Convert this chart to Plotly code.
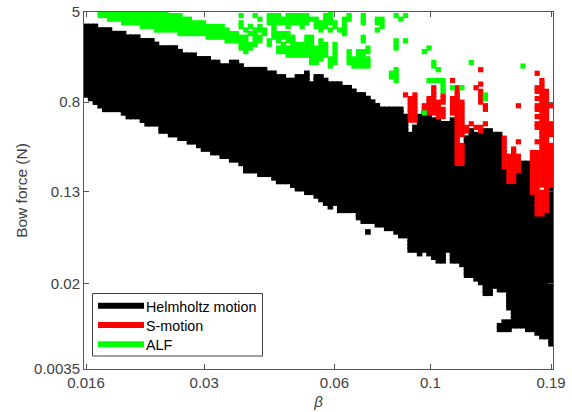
import plotly.graph_objects as go

# Sampling grid of the parameter sweep
beta_levels = [
    0.016, 0.0164, 0.01682, 0.01725, 0.01768, 0.01813, 0.01859, 0.01906, 0.01954, 0.02004,
    0.02055, 0.02107, 0.0216, 0.02215, 0.02271, 0.02328, 0.02387, 0.02448, 0.0251, 0.02573,
    0.02639, 0.02705, 0.02774, 0.02844, 0.02916, 0.0299, 0.03066, 0.03143, 0.03223, 0.03304,
    0.03388, 0.03474, 0.03562, 0.03652, 0.03744, 0.03839, 0.03936, 0.04036, 0.04138, 0.04243,
    0.0435, 0.0446, 0.04573, 0.04689, 0.04808, 0.04929, 0.05054, 0.05182, 0.05313, 0.05448,
    0.05586, 0.05727, 0.05872, 0.06021, 0.06173, 0.0633, 0.0649, 0.06654, 0.06823, 0.06995,
    0.07172, 0.07354, 0.0754, 0.07731, 0.07926, 0.08127, 0.08333, 0.08543, 0.0876, 0.08981,
    0.09209, 0.09442, 0.09681, 0.09926, 0.1018, 0.1043, 0.107, 0.1097, 0.1125, 0.1153,
    0.1183, 0.1212, 0.1243, 0.1275, 0.1307, 0.134, 0.1374, 0.1409, 0.1445, 0.1481,
    0.1519, 0.1557, 0.1597, 0.1637, 0.1679, 0.1721, 0.1765, 0.181, 0.1855, 0.19,
]
force_levels = [
    0.0035, 0.003766, 0.004053, 0.004362, 0.004694, 0.005052, 0.005436, 0.00585, 0.006296, 0.006775,
    0.007291, 0.007846, 0.008444, 0.009087, 0.009779, 0.01052, 0.01133, 0.01219, 0.01312, 0.01411,
    0.01519, 0.01635, 0.01759, 0.01893, 0.02037, 0.02192, 0.02359, 0.02539, 0.02732, 0.0294,
    0.03164, 0.03405, 0.03664, 0.03943, 0.04243, 0.04566, 0.04914, 0.05288, 0.05691, 0.06124,
    0.0659, 0.07092, 0.07632, 0.08213, 0.08838, 0.09511, 0.1024, 0.1102, 0.1185, 0.1276,
    0.1373, 0.1477, 0.159, 0.1711, 0.1841, 0.1981, 0.2132, 0.2295, 0.2469, 0.2657,
    0.286, 0.3077, 0.3312, 0.3564, 0.3835, 0.4127, 0.4441, 0.478, 0.5144, 0.5535,
    0.5957, 0.641, 0.6898, 0.7424, 0.7989, 0.8597, 0.9252, 0.9956, 1.071, 1.153,
    1.241, 1.335, 1.437, 1.546, 1.664, 1.791, 1.927, 2.074, 2.232, 2.402,
    2.585, 2.781, 2.993, 3.221, 3.466, 3.73, 4.014, 4.32, 4.649, 5.0,
]

x_tick_vals = [0.016, 0.03, 0.06, 0.1, 0.19]
x_tick_text = ["0.016", "0.03", "0.06", "0.1", "0.19"]
y_tick_vals = [0.0035, 0.02, 0.13, 0.8, 5]
y_tick_text = ["0.0035", "0.02", "0.13", "0.8", "5"]

# Helmholtz region: highest and lowest force step per beta step
helmholtz_top = [
    95, 95, 95, 94, 94, 94, 93, 93, 93, 92,
    92, 92, 91, 91, 91, 90, 89, 89, 89, 89,
    88, 87, 87, 87, 86, 86, 86, 85, 85, 84,
    84, 85, 85, 84, 83, 83, 83, 83, 83, 82,
    82, 81, 81, 80, 80, 81, 81, 82, 79, 81,
    81, 80, 79, 79, 79, 78, 78, 77, 76, 76,
    75, 74, 73, 72, 72, 72, 72, 72, 70, 65,
    67, 70, 71, 70, 69, 69, 68, 68, 69, 56,
    56, 64, 66, 65, 65, 66, 66, 65, 65, 55,
    51, 51, 54, 57, 57, 48, 42, 42, 43, 50,
]
helmholtz_bottom = [
    76, 75, 74, 73, 72, 72, 72, 72, 71, 70,
    70, 70, 69, 68, 68, 68, 66, 66, 65, 65,
    64, 64, 63, 63, 62, 61, 61, 60, 60, 59,
    59, 58, 58, 57, 55, 55, 55, 54, 54, 54,
    53, 52, 52, 52, 51, 50, 50, 49, 49, 48,
    47, 46, 45, 46, 44, 44, 44, 44, 42, 41,
    41, 41, 40, 40, 39, 39, 38, 37, 37, 33,
    33, 32, 33, 32, 31, 30, 30, 33, 30, 30,
    29, 26, 26, 25, 24, 21, 21, 23, 22, 22,
    17, 12, 12, 12, 11, 11, 10, 9, 9, 7,
]
# (beta step, lowest force step, highest force step)
helmholtz_extra = [(60, 38, 38), (88, 11, 12), (89, 11, 13), (90, 11, 13)]

s_motion = [
    (68, 76, 76), (69, 69, 75), (70, 69, 76), (72, 72, 73), (73, 71, 75), (74, 71, 78),
    (75, 70, 74), (76, 74, 76), (76, 70, 72), (78, 80, 80), (78, 71, 75), (79, 57, 78),
    (80, 65, 74), (80, 57, 62), (81, 66, 67), (82, 68, 68), (83, 67, 67), (84, 66, 67),
    (85, 68, 68), (83, 78, 78), (84, 83, 83), (84, 79, 79), (84, 74, 77), (85, 72, 73),
    (89, 56, 64), (90, 52, 59), (91, 52, 61), (92, 55, 59), (92, 63, 63), (92, 73, 73),
    (95, 49, 60), (96, 82, 82), (96, 77, 78), (96, 75, 75), (96, 72, 73), (96, 70, 70),
    (96, 67, 68), (96, 63, 63), (96, 43, 60), (97, 51, 80), (97, 43, 49), (98, 44, 77),
    (99, 73, 73), (99, 65, 68), (99, 51, 62),
]
alf = [
    (3, 98, 99), (4, 98, 99), (5, 97, 99), (6, 97, 99), (7, 97, 99), (8, 96, 99), (9, 96, 99),
    (10, 96, 99), (11, 96, 99), (12, 95, 99), (13, 95, 99), (14, 95, 99), (15, 94, 99),
    (16, 94, 99), (17, 94, 99), (18, 94, 98), (19, 94, 98), (20, 93, 98), (21, 93, 97),
    (22, 93, 97), (23, 93, 96), (24, 93, 96), (25, 93, 96), (26, 92, 95), (27, 92, 95),
    (28, 92, 95), (29, 92, 95), (30, 91, 94), (31, 91, 93), (32, 91, 93),
    (33, 98, 98), (33, 95, 96), (33, 89, 92), (34, 94, 94), (34, 88, 92), (35, 95, 95),
    (35, 93, 93), (35, 89, 90), (36, 98, 98), (36, 94, 94), (36, 90, 93), (37, 97, 97),
    (37, 94, 95), (37, 91, 92), (38, 93, 94), (39, 96, 98), (39, 90, 91), (40, 96, 98),
    (40, 92, 95), (41, 96, 98), (41, 91, 93), (41, 88, 89), (42, 96, 97), (42, 92, 93),
    (42, 88, 90), (43, 95, 98), (43, 91, 93), (43, 87, 89), (44, 96, 98), (44, 91, 92),
    (44, 87, 90), (45, 96, 98), (45, 87, 90), (46, 95, 98), (46, 87, 90), (47, 96, 98),
    (47, 91, 92), (47, 87, 90), (48, 97, 97), (48, 90, 92), (48, 85, 89), (49, 95, 97),
    (49, 85, 89), (50, 94, 96), (50, 86, 91), (51, 95, 98), (51, 87, 90), (52, 96, 99),
    (52, 94, 94), (52, 84, 86), (53, 95, 96), (53, 85, 90), (54, 94, 94), (55, 93, 97),
    (56, 97, 98), (56, 85, 88), (57, 84, 86), (58, 84, 88), (59, 96, 98), (59, 91, 92),
    (59, 84, 88), (60, 88, 89), (60, 84, 86), (62, 96, 97), (62, 94, 94), (63, 95, 97),
    (65, 81, 82), (66, 98, 98), (66, 89, 91), (66, 80, 83), (67, 97, 97), (68, 98, 98),
    (68, 91, 91), (72, 88, 88), (72, 71, 71), (73, 89, 89), (73, 80, 80), (74, 84, 85),
    (74, 80, 80), (75, 83, 83), (75, 80, 80), (76, 77, 80), (78, 78, 78), (80, 78, 78),
    (82, 85, 85), (85, 75, 76), (93, 84, 84),
]


def expand(spans):
    xs, ys = [], []
    for col, low, high in spans:
        for row in range(low, high + 1):
            xs.append(beta_levels[col])
            ys.append(force_levels[row])
    return xs, ys


helmholtz_spans = [
    (c, helmholtz_bottom[c], helmholtz_top[c]) for c in range(len(beta_levels))
] + helmholtz_extra

series = [
    ("Helmholtz motion", "#000000", helmholtz_spans, 5.6),
    ("S-motion", "#ff0000", s_motion, 5.2),
    ("ALF", "#00ff00", alf, 5.2),
]

fig = go.Figure()
for name, colour, spans, size in series:
    xs, ys = expand(spans)
    fig.add_trace(go.Scatter(
        x=xs, y=ys, mode="markers", name=name, showlegend=False, hoverinfo="skip",
        marker=dict(symbol="square", size=size, color=colour, line=dict(width=0)),
    ))

axis_colour = "#555555"
text_colour = "#404040"
fig.update_xaxes(
    type="log", range=[-1.8005, -0.7167], tickmode="array",
    tickvals=x_tick_vals, ticktext=x_tick_text, ticks="inside", ticklen=5, tickwidth=1,
    tickcolor=axis_colour, showline=True, linecolor=axis_colour, linewidth=1, mirror="allticks",
    showgrid=False, zeroline=False, tickfont=dict(size=15, color=text_colour),
    title=dict(text="<i>β</i>", font=dict(size=15, color=text_colour), standoff=6),
)
fig.update_yaxes(
    type="log", range=[-2.4559, 0.699], tickmode="array",
    tickvals=y_tick_vals, ticktext=y_tick_text, ticks="inside", ticklen=5, tickwidth=1,
    tickcolor=axis_colour, showline=True, linecolor=axis_colour, linewidth=1, mirror="allticks",
    showgrid=False, zeroline=False, tickfont=dict(size=15, color=text_colour),
    title=dict(text="Bow force (N)", font=dict(size=15.5, color=text_colour), standoff=2),
)

# Legend box, drawn in paper fractions to keep its compact row spacing
fig.add_shape(type="rect", xref="paper", yref="paper", x0=0.0181, x1=0.3806, y0=0.0364, y1=0.2115,
              fillcolor="white", line=dict(color="#404040", width=1))
sample_rows = [0.1773, 0.1233, 0.0692]
text_rows = [0.1737, 0.1204, 0.0672]
for (name, colour, _, _), sample_y, text_y in zip(series, sample_rows, text_rows):
    fig.add_shape(type="line", xref="paper", yref="paper", x0=0.0299, x1=0.1279,
                  y0=sample_y, y1=sample_y, line=dict(color=colour, width=6))
    fig.add_annotation(xref="paper", yref="paper", x=0.1285, y=text_y, text=name, showarrow=False,
                       xanchor="left", yanchor="middle", font=dict(size=14.3, color="#000000"))

fig.update_layout(
    width=572, height=412, autosize=False, showlegend=False,
    margin=dict(l=84, r=19, t=12, b=43, autoexpand=False),
    paper_bgcolor="white", plot_bgcolor="white",
    font=dict(family="Liberation Sans, Arial, sans-serif"),
)
fig.write_html("out.html", post_script="document.body.style.margin='0';",
               config=dict(displayModeBar=False))
